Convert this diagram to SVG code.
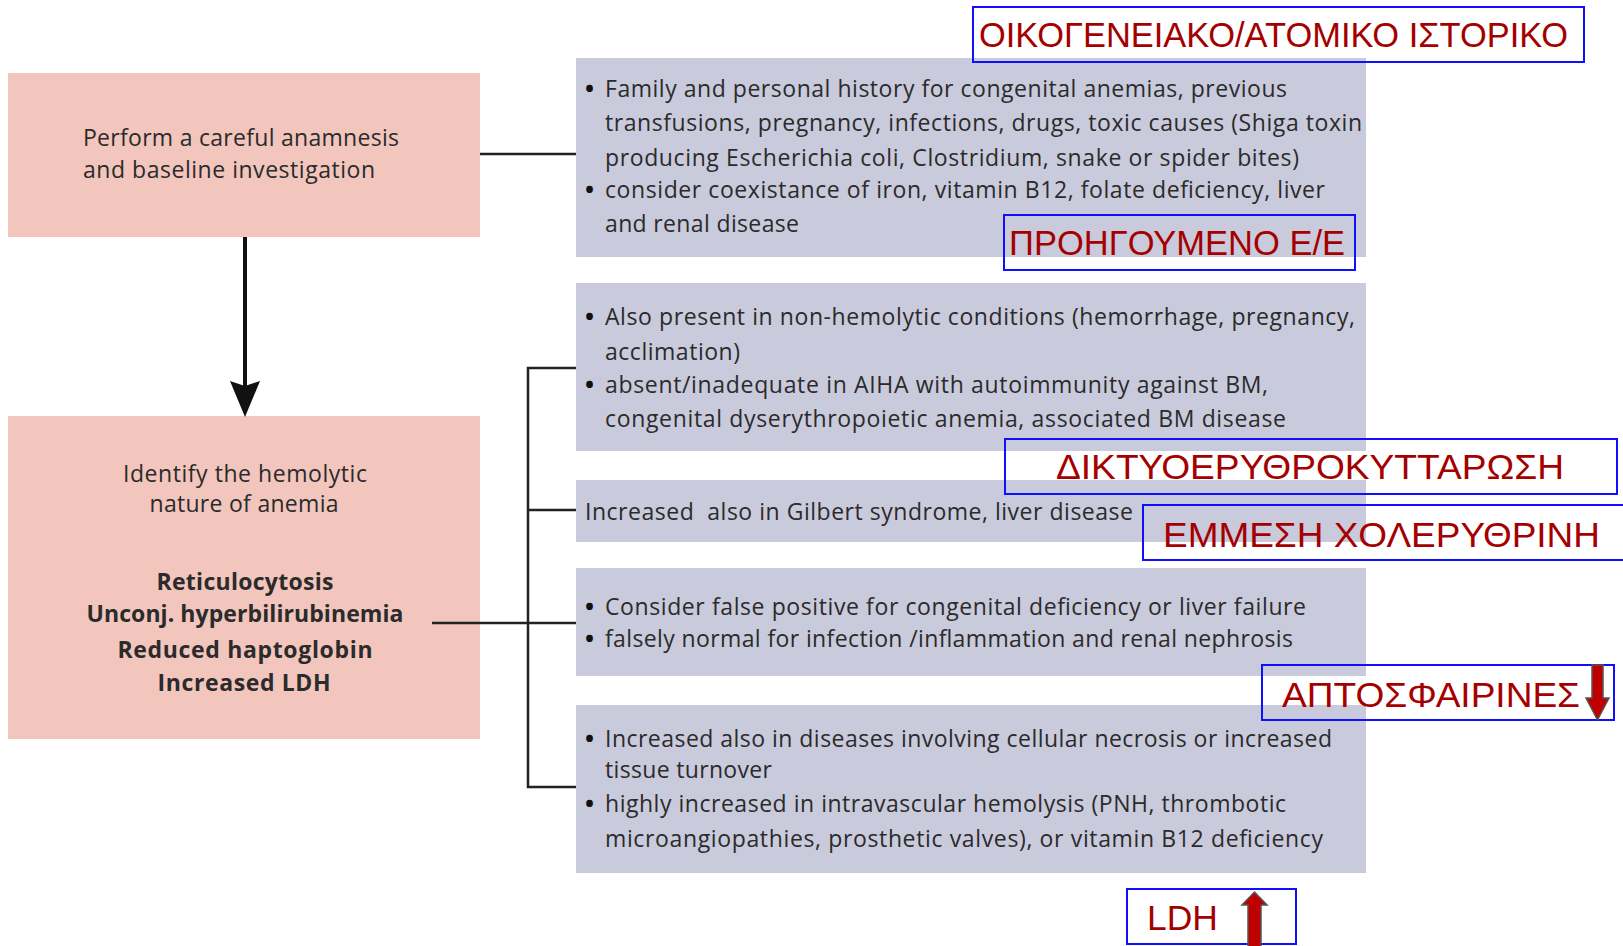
<svg xmlns="http://www.w3.org/2000/svg" width="1623" height="946" viewBox="0 0 1623 946">
<defs>
<style>
.pink{fill:#F2C5BD}
.lav{fill:#C9CADC}
.t{font-family:"Open Sans","Noto Sans",sans-serif;font-size:23px;fill:#2b2b2b}
.bu{font-family:"Open Sans","Noto Sans",sans-serif;font-size:24px;font-weight:bold;fill:#111}
.b{font-weight:bold}
.g{font-family:"Liberation Sans",Arial,sans-serif;font-size:35px;fill:#A50000}
.lbl{fill:none;stroke:#1010FF;stroke-width:2}
.conn{fill:none;stroke:#222;stroke-width:2.5}
.red{fill:#C00000;stroke:#555;stroke-width:1.5}
</style>
<marker id="ah" viewBox="0 0 36 30" refX="19" refY="15" markerWidth="36" markerHeight="30" markerUnits="userSpaceOnUse" orient="auto">
<path d="M0,0 L36,15 L0,30 L5,15 Z" fill="#111"/>
</marker>
</defs>
<rect width="1623" height="946" fill="#fff"/>

<g id="node-anamnesis">
<rect class="pink" x="8" y="73" width="472" height="164"/>
<text class="t" x="83" y="146" textLength="316">Perform a careful anamnesis</text>
<text class="t" x="83" y="178" textLength="292">and baseline investigation</text>
</g>

<g id="node-hemolytic">
<rect class="pink" x="8" y="416" width="472" height="323"/>
<text class="t" x="245" y="482" text-anchor="middle" textLength="244">Identify the hemolytic</text>
<text class="t" x="244" y="512" text-anchor="middle" textLength="189">nature of anemia</text>
<text class="t b" x="245" y="590" text-anchor="middle" textLength="177">Reticulocytosis</text>
<text class="t b" x="245" y="622" text-anchor="middle" textLength="317">Unconj. hyperbilirubinemia</text>
<text class="t b" x="245" y="658" text-anchor="middle" textLength="255">Reduced haptoglobin</text>
<text class="t b" x="244" y="691" text-anchor="middle" textLength="173">Increased LDH</text>
</g>

<g id="node-history">
<rect class="lav" x="576" y="58" width="790" height="199"/>
<text class="bu" x="585" y="97">•</text>
<text class="t" x="605" y="97" textLength="682">Family and personal history for congenital anemias, previous</text>
<text class="t" x="605" y="131" textLength="757">transfusions, pregnancy, infections, drugs, toxic causes (Shiga toxin</text>
<text class="t" x="605" y="166" textLength="694">producing Escherichia coli, Clostridium, snake or spider bites)</text>
<text class="bu" x="585" y="198">•</text>
<text class="t" x="605" y="198" textLength="720">consider coexistance of iron, vitamin B12, folate deficiency, liver</text>
<text class="t" x="605" y="232" textLength="194">and renal disease</text>
</g>

<g id="node-reticulocytosis">
<rect class="lav" x="576" y="283" width="790" height="168"/>
<text class="bu" x="585" y="325">•</text>
<text class="t" x="605" y="325" textLength="750">Also present in non-hemolytic conditions (hemorrhage, pregnancy,</text>
<text class="t" x="605" y="360" textLength="135">acclimation)</text>
<text class="bu" x="585" y="393">•</text>
<text class="t" x="605" y="393" textLength="663">absent/inadequate in AIHA with autoimmunity against BM,</text>
<text class="t" x="605" y="427" textLength="681">congenital dyserythropoietic anemia, associated BM disease</text>
</g>

<g id="node-bilirubin">
<rect class="lav" x="576" y="480" width="790" height="62"/>
<text class="t" x="585" y="520" textLength="548" xml:space="preserve">Increased  also in Gilbert syndrome, liver disease</text>
</g>

<g id="node-haptoglobin">
<rect class="lav" x="576" y="568" width="790" height="108"/>
<text class="bu" x="585" y="615">•</text>
<text class="t" x="605" y="615" textLength="701">Consider false positive for congenital deficiency or liver failure</text>
<text class="bu" x="585" y="647">•</text>
<text class="t" x="605" y="647" textLength="688">falsely normal for infection /inflammation and renal nephrosis</text>
</g>

<g id="node-ldh">
<rect class="lav" x="576" y="705" width="790" height="168"/>
<text class="bu" x="585" y="747">•</text>
<text class="t" x="605" y="747" textLength="727">Increased also in diseases involving cellular necrosis or increased</text>
<text class="t" x="605" y="778" textLength="167">tissue turnover</text>
<text class="bu" x="585" y="812">•</text>
<text class="t" x="605" y="812" textLength="681">highly increased in intravascular hemolysis (PNH, thrombotic</text>
<text class="t" x="605" y="847" textLength="718">microangiopathies, prosthetic valves), or vitamin B12 deficiency</text>
</g>

<g id="connectors">
<path class="conn" d="M480,154 H576"/>
<path d="M245,237 V400" fill="none" stroke="#111" stroke-width="4" marker-end="url(#ah)"/>
<path class="conn" d="M576,368 H528 V787 H576 M528,510 H576 M432,623 H576"/>
</g>

<g id="label-history">
<rect class="lbl" x="973" y="7" width="611" height="55"/>
<text class="g" x="979" y="47" textLength="589" lengthAdjust="spacingAndGlyphs">ΟΙΚΟΓΕΝΕΙΑΚΟ/ΑΤΟΜΙΚΟ ΙΣΤΟΡΙΚΟ</text>
</g>
<g id="label-previous">
<rect class="lbl" x="1004" y="215" width="351" height="55"/>
<text class="g" x="1009" y="255" textLength="336" lengthAdjust="spacingAndGlyphs">ΠΡΟΗΓΟΥΜΕΝΟ Ε/Ε</text>
</g>
<g id="label-reticulocytosis">
<rect class="lbl" x="1005" y="439" width="612" height="55"/>
<text class="g" x="1056" y="479" textLength="508" lengthAdjust="spacingAndGlyphs">ΔΙΚΤΥΟΕΡΥΘΡΟΚΥΤΤΑΡΩΣΗ</text>
</g>
<g id="label-bilirubin">
<rect class="lbl" x="1143" y="505" width="484" height="55"/>
<text class="g" x="1163" y="547" textLength="437" lengthAdjust="spacingAndGlyphs">ΕΜΜΕΣΗ ΧΟΛΕΡΥΘΡΙΝΗ</text>
</g>
<g id="label-haptoglobin">
<rect class="lbl" x="1262" y="665" width="352" height="55"/>
<text class="g" x="1282" y="707" textLength="298" lengthAdjust="spacingAndGlyphs">ΑΠΤΟΣΦΑΙΡΙΝΕΣ</text>
<polygon class="red" points="1592,665 1603,665 1603,698 1609,698 1597.5,720 1586,698 1592,698"/>
</g>
<g id="label-ldh">
<rect class="lbl" x="1127" y="889" width="169" height="55"/>
<text class="g" x="1147" y="930" textLength="71" lengthAdjust="spacingAndGlyphs">LDH</text>
<polygon class="red" points="1248,947 1248,905 1242,905 1254.5,892 1267,905 1261,905 1261,947"/>
</g>
</svg>
